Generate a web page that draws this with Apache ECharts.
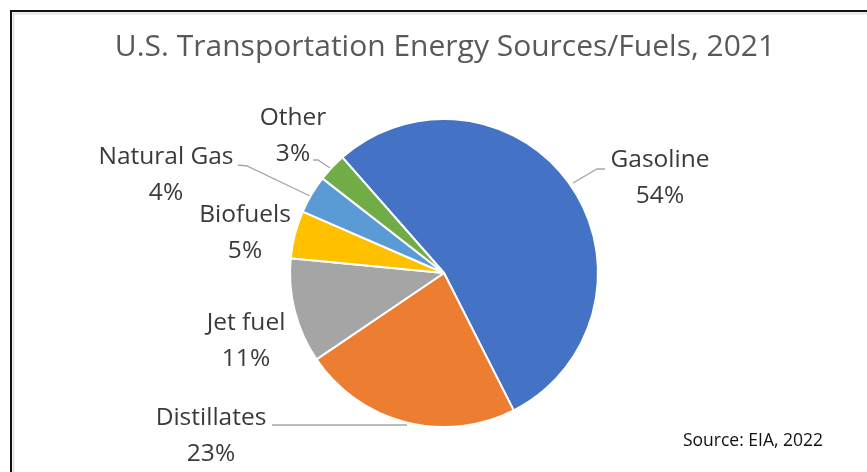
<!DOCTYPE html>
<html>
<head>
<meta charset="utf-8">
<script src="https://cdn.jsdelivr.net/npm/echarts@6/dist/echarts.min.js"></script>
<style>
html,body{margin:0;padding:0;background:#fff;}
#c{width:867px;height:472px;}
</style>
</head>
<body>
<div id="c"></div>
<script>
var categories = ['Gasoline', 'Distillates', 'Jet fuel', 'Biofuels', 'Natural Gas', 'Other'];
var shares = [54, 23, 11, 5, 4, 3];
var colors = ['#4472C4', '#ED7D31', '#A5A5A5', '#FFC000', '#5B9BD5', '#70AD47'];
var titleText = 'U.S. Transportation Energy Sources/Fuels, 2021';
var sourceText = 'Source: EIA, 2022';

// label placement (layout/style only)
var labelPos = [
  {x: 660, y: 178, line: [[573,183],[597,169],[605,169]]},
  {x: 211, y: 436, line: [[407,425],[340,425],[272,425]]},
  {x: 246, y: 341, line: null},
  {x: 245, y: 233, line: null},
  {x: 166, y: 175, line: [[310,196],[247,166],[238,165]]},
  {x: 293, y: 136, line: [[330,168],[318,160],[313,160]]}
];

var chart = echarts.init(document.getElementById('c'), null, {renderer: 'canvas'});
var FONT = '"Open Sans", "Noto Sans", sans-serif';

var data = categories.map(function (name, i) {
  return {
    name: name,
    value: shares[i],
    itemStyle: {color: colors[i]},
    labelLine: {show: !!labelPos[i].line}
  };
});

chart.setOption({
  animation: false,
  backgroundColor: '#ffffff',
  graphic: [
    {type: 'rect', shape: {x: 11, y: 11, width: 900, height: 500}, style: {fill: 'none', stroke: '#111', lineWidth: 2}, z: 10},
    {type: 'polyline', shape: {points: [[13.5, 500], [13.5, 13.5], [900, 13.5]]}, style: {fill: 'none', stroke: '#e2e2e2', lineWidth: 2}, z: 9},
    {type: 'text', x: 445, y: 47, style: {text: titleText, fill: '#595959', font: '30px ' + FONT, textAlign: 'center', textVerticalAlign: 'middle'}},
    {type: 'text', x: 753, y: 441, style: {text: sourceText, fill: '#111', font: '17.5px ' + FONT, textAlign: 'center', textVerticalAlign: 'middle'}}
  ],
  series: [{
    type: 'pie',
    center: [444, 273],
    radius: 154,
    startAngle: 131.3,
    clockwise: true,
    avoidLabelOverlap: false,
    itemStyle: {borderColor: '#ffffff', borderWidth: 2},
    label: {
      show: true,
      position: 'outside',
      formatter: '{b}\n{c}%',
      color: '#3a3a3a',
      fontFamily: FONT,
      fontSize: 24.5,
      lineHeight: 36
    },
    labelLine: {lineStyle: {color: '#A6A6A6', width: 1.3}},
    labelLayout: function (params) {
      var p = labelPos[params.dataIndex];
      var r = {x: p.x, y: p.y, align: 'center', verticalAlign: 'middle'};
      if (p.line) r.labelLinePoints = p.line;
      return r;
    },
    data: data
  }]
});
</script>
</body>
</html>
